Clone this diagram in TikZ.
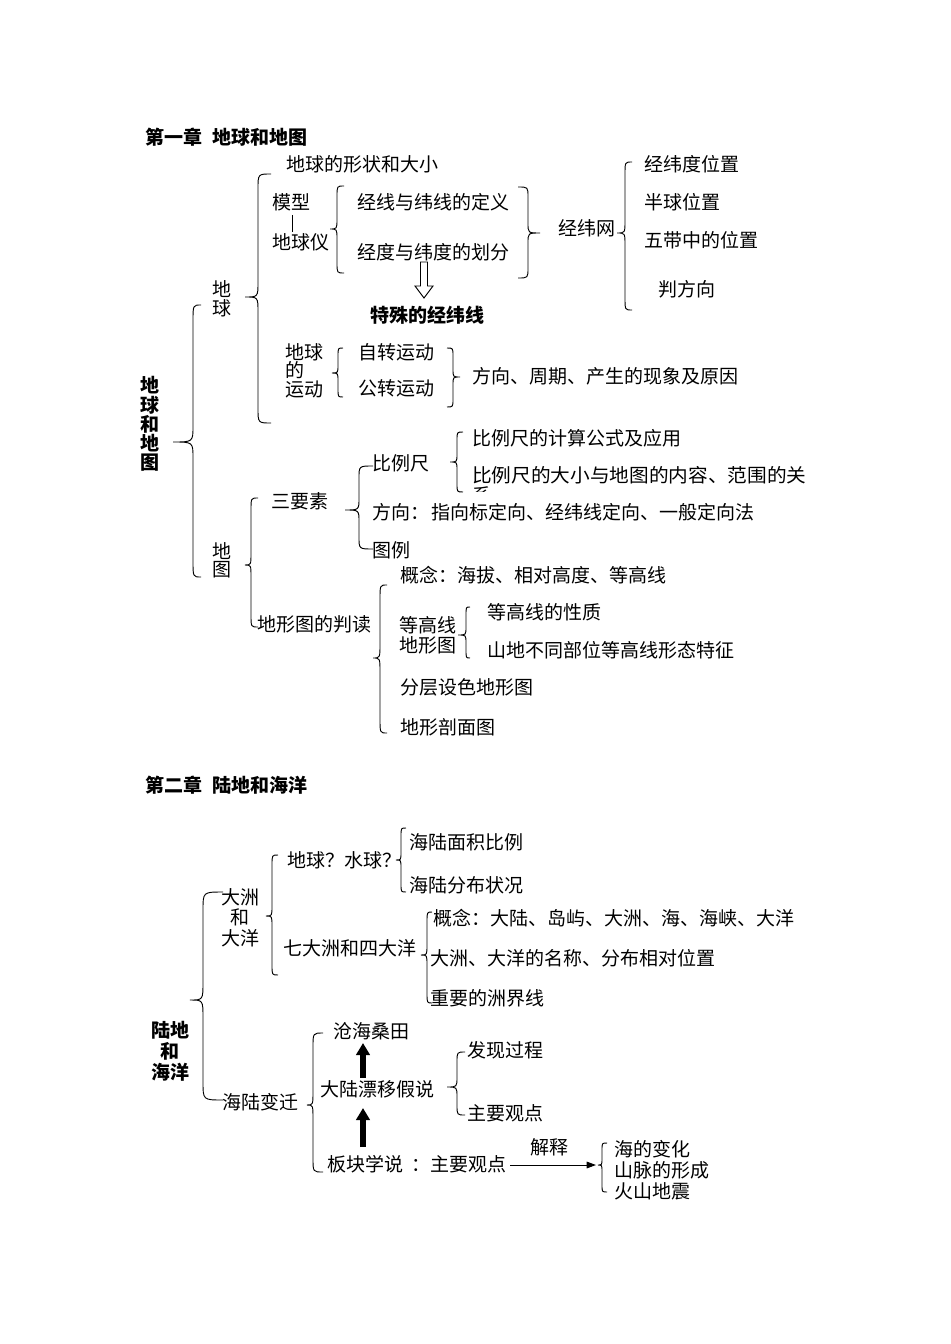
\documentclass[tikz,border=0pt]{standalone}
\usepackage{fontspec}
\setmainfont{Noto Sans CJK SC}
\usetikzlibrary{arrows.meta}
% curly brace: xe (end x), xv (stem x), xt (tip x), ytop, ytip, ybot, r
\newcommand{\cbr}[7]{\draw[brc] (#1,#4) .. controls (#2,#4) .. (#2,#4+#7) -- (#2,#5-#7) .. controls (#2,#5) .. (#3,#5) .. controls (#2,#5) .. (#2,#5+#7) -- (#2,#6-#7) .. controls (#2,#6) .. (#1,#6);}
\begin{document}
\begin{tikzpicture}[x=0.75pt,y=-0.75pt,
  txt/.style={anchor=west,inner sep=0pt,font=\fontsize{14.25}{16}\selectfont},
  btxt/.style={anchor=west,inner sep=0pt,font=\fontsize{14.25}{16}\selectfont\bfseries},
  brc/.style={draw=black,line width=0.7pt},
  bigarr/.style={draw=black,line width=3.8pt,-{Triangle[length=9pt,width=10pt]}},
  thinarr/.style={draw=black,line width=0.7pt,-{Triangle[length=7pt,width=5pt]}}]
\useasboundingbox[fill=white] (0,0) rectangle (950,1344);

% ---------------- Chapter 1 ----------------
\node[btxt] (h1) at (145,137) {第一章\hspace{8pt}地球和地图};
\node[inner sep=0pt,align=center,font=\fontsize{14.25}{14.4}\selectfont\bfseries] (dqhdt) at (150,424) {地\\球\\和\\地\\图};
\cbr{201}{193}{173}{305}{442}{577}{16}

\node[inner sep=0pt,align=center,font=\fontsize{14.25}{14.3}\selectfont] (dq) at (222,298.5) {地\\球};
\cbr{271}{258}{245}{174}{297}{423}{15}

\node[txt] (xzdx) at (286,164) {地球的形状和大小};
\node[txt] (mx) at (272,202) {模型};
\node[txt] (dqy) at (272,242) {地球仪};
\draw[brc] (292,215) -- (292,232);
\cbr{344}{337}{330}{186}{229}{273}{10}
\node[txt] (jxdy) at (357,202) {经线与纬线的定义};
\node[txt] (jdhf) at (357,252) {经度与纬度的划分};
\cbr{518}{528}{540}{187}{233}{278}{10}
\node[txt] (jww) at (558,228) {经纬网};
\cbr{632}{625}{617}{162}{233}{310}{12}
\node[txt] (jwdw) at (644,164) {经纬度位置};
\node[txt] (bqwz) at (644,202) {半球位置};
\node[txt] (wdwz) at (644,240) {五带中的位置};
\node[txt] (pfx) at (658,289) {判方向};
\draw[brc] (420.5,262) -- (427.5,262) -- (427.5,286) -- (433,286) -- (424,298) -- (415,286) -- (420.5,286) -- cycle;
\node[btxt] (tsjwx) at (370,315) {特殊的经纬线};

\node[inner sep=0pt,align=left,font=\fontsize{14.25}{13.9}\selectfont] (dqyd) at (304,370.5) {地球\\的\\运动};
\cbr{343}{338}{332}{348}{373}{397}{8}
\node[txt] (zzyd) at (358,352) {自转运动};
\node[txt] (gzyd) at (358,388) {公转运动};
\cbr{447}{453}{460}{348}{377}{407}{8}
\node[txt] (fxzq) at (472,376) {方向、周期、产生的现象及原因};

\node[inner sep=0pt,align=center,font=\fontsize{14.25}{13.5}\selectfont] (dt) at (222,560) {地\\图};
\cbr{258}{251}{245}{498}{565}{627}{12}
\node[txt] (sys) at (271,501) {三要素};
\cbr{373}{359}{345}{466}{510}{549}{12}
\node[txt] (blc) at (372,463) {比例尺};
\cbr{463}{457}{450}{432}{462}{492}{8}
\node[txt] (blcjs) at (472,438) {比例尺的计算公式及应用};
\node[txt,xscale=1.035] (blcdx) at (472,475) {比例尺的大小与地图的内容、范围的关};
\begin{scope}
\clip (465,484) rectangle (500,491);
\node[txt] (xi) at (472,495) {系};
\end{scope}
\node[txt] (fx) at (372,512) {方向：\hspace{2pt}指向标定向、经纬线定向、一般定向法};
\node[txt] (tl) at (372,550) {图例};

\node[txt] (dxtpd) at (257,624) {地形图的判读};
\cbr{387}{380}{373}{585}{658}{733}{14}
\node[txt] (gn1) at (400,575) {概念：海拔、相对高度、等高线};
\node[inner sep=0pt,align=left,font=\fontsize{14.25}{15}\selectfont] (dgx) at (428,635) {等高线\\地形图};
\cbr{470}{466}{458}{607}{635}{658}{8}
\node[txt] (dgxxz) at (487,612) {等高线的性质};
\node[txt] (sdbt) at (487,650) {山地不同部位等高线形态特征};
\node[txt] (fcss) at (400,687) {分层设色地形图};
\node[txt] (dxpm) at (400,727) {地形剖面图};

% ---------------- Chapter 2 ----------------
\node[btxt] (h2) at (145,785) {第二章\hspace{8pt}陆地和海洋};
\node[inner sep=0pt,align=center,font=\fontsize{14.25}{15.75}\selectfont\bfseries] (ldhy) at (170,1051) {陆地\\和\\海洋};
\cbr{223}{203}{190}{892}{1000}{1100}{18}
\node[inner sep=0pt,align=center,font=\fontsize{14.25}{15.4}\selectfont] (dzdy) at (240,917.5) {大洲\\和\\大洋};
\cbr{278}{272}{266}{855}{916}{975}{10}
\node[txt] (dqsq) at (287,860) {地球？水球？};
\cbr{406}{401}{396}{828}{860}{892}{8}
\node[txt] (mjbl) at (409,842) {海陆面积比例};
\node[txt] (fbzk) at (409,885) {海陆分布状况};
\node[txt] (qdz) at (283,948) {七大洲和四大洋};
\cbr{432}{427}{421}{912}{955}{1003}{10}
\node[txt] (gn2) at (433,918) {概念：大陆、岛屿、大洲、海、海峡、大洋};
\node[txt] (mcfb) at (430,958) {大洲、大洋的名称、分布相对位置};
\node[txt] (zjx) at (430,998) {重要的洲界线};

\node[txt] (hlbq) at (222,1102) {海陆变迁};
\cbr{323}{313}{307}{1033}{1105}{1172}{14}
\node[txt] (chst) at (333,1031) {沧海桑田};
\node[txt] (dlpy) at (320,1089) {大陆漂移假说};
\node[txt] (bkxs) at (327,1164) {板块学说\hspace{6pt}：主要观点};
\coordinate (a1s) at (363,1078);
\coordinate (a1e) at (363,1043);
\coordinate (a2s) at (363,1147);
\coordinate (a2e) at (363,1108);
\draw[bigarr] (a1s) -- (a1e);
\draw[bigarr] (a2s) -- (a2e);
\cbr{465}{457}{447}{1052}{1087}{1115}{10}
\node[txt] (fxgc) at (467,1050) {发现过程};
\node[txt] (zygd) at (467,1113) {主要观点};
\coordinate (js1) at (510,1165);
\coordinate (js2) at (596,1165);
\draw[thinarr] (js1) -- (js2);
\node[txt] (js) at (530,1147) {解释};
\cbr{607}{602}{598}{1143}{1165}{1192}{7}
\node[txt] (hdbh) at (614,1149) {海的变化};
\node[txt] (smxc) at (614,1170) {山脉的形成};
\node[txt] (hsdz) at (614,1191) {火山地震};
\end{tikzpicture}
\end{document}
